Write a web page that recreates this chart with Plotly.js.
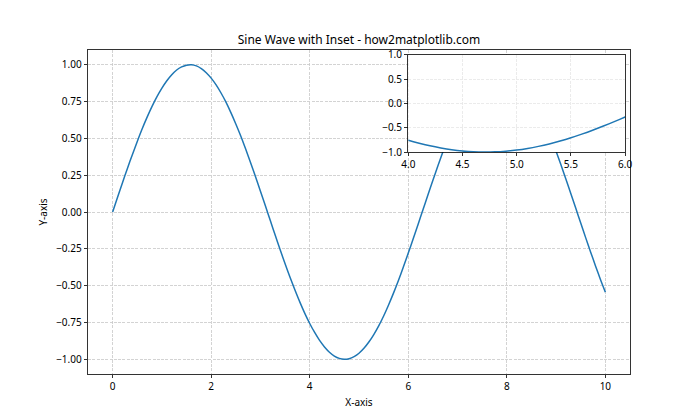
<!DOCTYPE html>
<html>
<head>
<meta charset="utf-8">
<script src="https://cdn.plot.ly/plotly-3.0.1.min.js"></script>
<style>html,body{margin:0;padding:0;background:#fff;}#chart{width:700px;height:420px;}</style>
</head>
<body>
<div id="chart"></div>
<script>
// x samples and curve values
const xValues = [0.0,0.1,0.2,0.3,0.4,0.5,0.6,0.7,0.8,0.9,1.0,1.1,1.2,1.3,1.4,1.5,1.6,1.7,1.8,1.9,2.0,2.1,2.2,2.3,2.4,2.5,2.6,2.7,2.8,2.9,3.0,3.1,3.2,3.3,3.4,3.5,3.6,3.7,3.8,3.9,4.0,4.1,4.2,4.3,4.4,4.5,4.6,4.7,4.8,4.9,5.0,5.1,5.2,5.3,5.4,5.5,5.6,5.7,5.8,5.9,6.0,6.1,6.2,6.3,6.4,6.5,6.6,6.7,6.8,6.9,7.0,7.1,7.2,7.3,7.4,7.5,7.6,7.7,7.8,7.9,8.0,8.1,8.2,8.3,8.4,8.5,8.6,8.7,8.8,8.9,9.0,9.1,9.2,9.3,9.4,9.5,9.6,9.7,9.8,9.9,10.0];
const yValues = [0.000,0.100,0.199,0.296,0.389,0.479,0.565,0.644,0.717,0.783,0.841,0.891,0.932,0.964,0.985,0.997,1.000,0.992,0.974,0.946,0.909,0.863,0.808,0.746,0.675,0.598,0.516,0.427,0.335,0.239,0.141,0.042,-0.058,-0.158,-0.256,-0.351,-0.443,-0.530,-0.612,-0.688,-0.757,-0.818,-0.872,-0.916,-0.952,-0.978,-0.994,-1.000,-0.996,-0.982,-0.959,-0.926,-0.883,-0.832,-0.773,-0.706,-0.631,-0.551,-0.465,-0.374,-0.279,-0.182,-0.083,0.017,0.117,0.215,0.312,0.405,0.494,0.578,0.657,0.729,0.794,0.851,0.899,0.938,0.968,0.988,0.998,0.999,0.989,0.970,0.941,0.903,0.855,0.798,0.734,0.662,0.584,0.501,0.412,0.319,0.223,0.124,0.025,-0.075,-0.174,-0.271,-0.366,-0.458,-0.544];

const mainXTicks = [0,2,4,6,8,10];
const mainYTicks = [-1.00,-0.75,-0.50,-0.25,0.00,0.25,0.50,0.75,1.00];
const insetXTicks = [4.0,4.5,5.0,5.5,6.0];
const insetYTicks = [-1.0,-0.5,0.0,0.5,1.0];

const FONT = "Noto Sans, Open Sans, DejaVu Sans, sans-serif";
const lineColor = '#1f77b4';

const traces = [
  {x: xValues, y: yValues, type: 'scatter', mode: 'lines', xaxis: 'x', yaxis: 'y',
   line: {color: lineColor, width: 1.5, shape: 'spline', smoothing: 0.8}, hoverinfo: 'skip'},
  {x: xValues, y: yValues, type: 'scatter', mode: 'lines', xaxis: 'x2', yaxis: 'y2',
   line: {color: lineColor, width: 1.5, shape: 'spline', smoothing: 0.8}, hoverinfo: 'skip'}
];

const axCommon = {
  showline: true, mirror: true, linecolor: '#000', linewidth: 0.8,
  ticks: 'outside', ticklen: 3.5, tickwidth: 0.8, tickcolor: '#000',
  zeroline: false, tickfont: {family: FONT, size: 10, color: '#000'}
};

const layout = {
  width: 700, height: 420,
  margin: {l: 87.5, r: 70, t: 50.4, b: 46.2, pad: 0},
  paper_bgcolor: '#fff', plot_bgcolor: '#fff',
  showlegend: false,
  font: {family: FONT, size: 10, color: '#000'},
  title: {text: 'Sine Wave with Inset - how2matplotlib.com', font: {family: FONT, size: 12, color: '#000'},
          x: 0.5, xref: 'paper', xanchor: 'center', y: 1, yref: 'paper', yanchor: 'bottom', pad: {b: 6}},
  xaxis: Object.assign({}, axCommon, {
    domain: [0, 1], anchor: 'y', range: [-0.5, 10.5],
    tickvals: mainXTicks, ticktext: mainXTicks.map(v => String(v)),
    showgrid: true, gridcolor: '#c8c8c8', gridwidth: 0.8, griddash: '3px,1.3px',
    title: {text: 'X-axis', font: {family: FONT, size: 10, color: '#000'}, standoff: 6}
  }),
  yaxis: Object.assign({}, axCommon, {
    domain: [0, 1], anchor: 'x', range: [-1.1, 1.1],
    tickvals: mainYTicks, ticktext: mainYTicks.map(v => v.toFixed(2).replace('-', '\u2212')),
    showgrid: true, gridcolor: '#c8c8c8', gridwidth: 0.8, griddash: '3px,1.3px',
    title: {text: 'Y-axis', font: {family: FONT, size: 10, color: '#000'}, standoff: 6}
  }),
  xaxis2: Object.assign({}, axCommon, {
    domain: [0.591, 0.991], anchor: 'y2', range: [4, 6],
    tickvals: insetXTicks, ticktext: insetXTicks.map(v => v.toFixed(1)),
    showgrid: true, gridcolor: '#e6e6e6', gridwidth: 0.8, griddash: '3px,1.3px'
  }),
  yaxis2: Object.assign({}, axCommon, {
    domain: [0.685, 0.985], anchor: 'x2', range: [-1, 1],
    tickvals: insetYTicks, ticktext: insetYTicks.map(v => v.toFixed(1).replace('-', '\u2212')),
    showgrid: true, gridcolor: '#e6e6e6', gridwidth: 0.8, griddash: '3px,1.3px'
  })
};

Plotly.newPlot('chart', traces, layout, {staticPlot: true, displayModeBar: false});
</script>
</body>
</html>
